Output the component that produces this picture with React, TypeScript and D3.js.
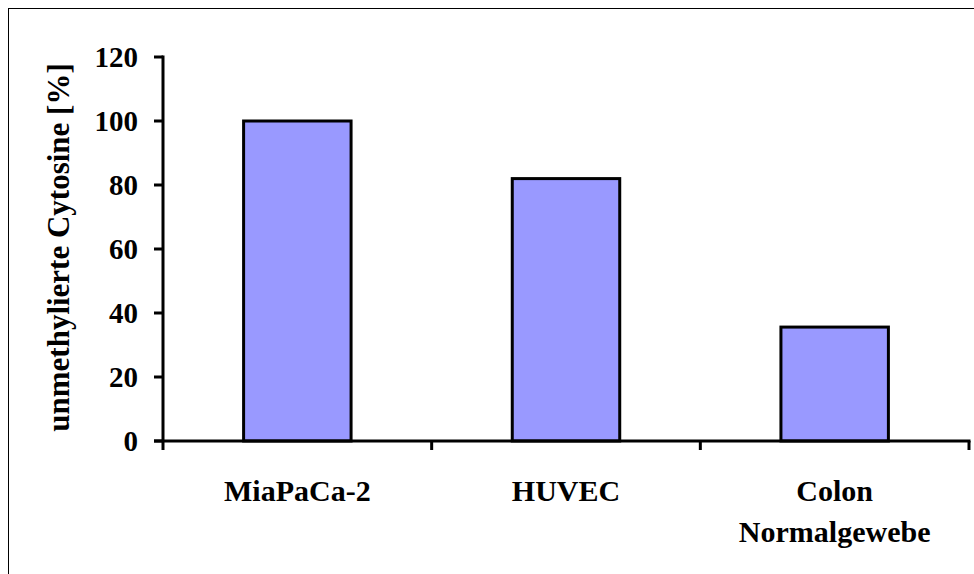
import React from "react";
import * as d3 from "d3";

const categories: string[][] = [["MiaPaCa-2"], ["HUVEC"], ["Colon", "Normalgewebe"]];
const values: number[] = [100, 82, 35.6];
const yTicks: number[] = [0, 20, 40, 60, 80, 100, 120];
const yTitle = "unmethylierte Cytosine [%]";

const W = 974;
const H = 574;
const left = 163;
const right = 969;
const top = 57;
const bottom = 441;
const font = "Liberation Serif";

export default function App() {
  const keys = categories.map((c) => c.join(" "));
  const x = d3.scaleBand<string>().domain(keys).range([left, right]).paddingInner(0.6).paddingOuter(0.3);
  const y = d3.scaleLinear().domain([0, 120]).range([bottom, top]);
  const step = x.step();
  const boundaries = [left, ...keys.map((k) => (x(k) as number) + x.bandwidth() + (step * 0.6) / 2)];
  const textStyle = { fontFamily: font, fontWeight: 700 };

  return (
    <svg width={W} height={H} style={{ position: "absolute", left: 0, top: 0 }}>
      <rect x={0} y={0} width={W} height={H} fill="#fff" />
      <rect x={8.5} y={8.5} width={W + 20} height={H + 20} fill="none" stroke="#000" strokeWidth={1} />
      {keys.map((k, i) => (
        <rect
          key={k}
          x={x(k) as number}
          y={y(values[i])}
          width={x.bandwidth()}
          height={bottom - y(values[i])}
          fill="#9999FF"
          stroke="#000"
          strokeWidth={3}
        />
      ))}
      {/* y axis */}
      <line x1={left} x2={left} y1={top - 1.5} y2={bottom} stroke="#000" strokeWidth={3} />
      {yTicks.map((t) => (
        <g key={t}>
          <line x1={left - 9} x2={left} y1={y(t)} y2={y(t)} stroke="#000" strokeWidth={3} />
          <text x={138} y={y(t)} dy="0.34em" textAnchor="end" style={{ ...textStyle, fontSize: 29 }}>
            {t}
          </text>
        </g>
      ))}
      {/* x axis */}
      <line x1={left - 9} x2={right + 1.5} y1={bottom} y2={bottom} stroke="#000" strokeWidth={3} />
      {boundaries.map((b, i) => (
        <line key={i} x1={b} x2={b} y1={bottom} y2={bottom + 9} stroke="#000" strokeWidth={3} />
      ))}
      {categories.map((lines, i) => {
        const cx = (x(keys[i]) as number) + x.bandwidth() / 2;
        return (
          <text key={keys[i]} x={cx} y={501} textAnchor="middle" style={{ ...textStyle, fontSize: 30 }}>
            {lines.map((l, j) => (
              <tspan key={j} x={cx} dy={j === 0 ? 0 : 41}>
                {l}
              </tspan>
            ))}
          </text>
        );
      })}
      <text
        transform={`translate(69,247.5) rotate(-90)`}
        textAnchor="middle"
        style={{ ...textStyle, fontSize: 31 }}
      >
        {yTitle}
      </text>
    </svg>
  );
}
